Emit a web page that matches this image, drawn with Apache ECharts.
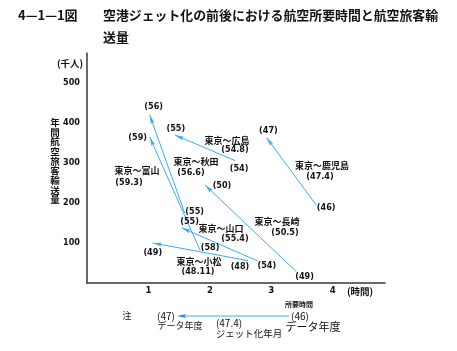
<!DOCTYPE html>
<html>
<head>
<meta charset="utf-8">
<script src="https://cdn.jsdelivr.net/npm/echarts@6/dist/echarts.min.js"></script>
<style>
  html, body { margin: 0; padding: 0; background: #fff; }
  #chart { width: 457px; height: 351px; }
</style>
</head>
<body>
<div id="chart"></div>
<script>
// 4-1-1図 空港ジェット化の前後における航空所要時間と航空旅客輸送量
var routes = ['東京〜鹿児島', '東京〜広島', '東京〜秋田', '東京〜富山', '東京〜山口', '東京〜小松', '東京〜長崎']
var jetDates = ['47.4', '54.8', '56.6', '59.3', '55.4', '48.11', '50.5']
// ジェット化前のデータ年度 / 所要時間(時間) / 輸送量(千人)
var beforeYear = ['46', '54', '55', '58', '54', '48', '49']
var beforeHours = [3.73, 2.41, 1.59, 1.84, 2.78, 2.62, 3.41]
var beforePassengers = [195, 306, 175, 82, 55, 56, 28]
// ジェット化後
var afterYear = ['47', '55', '56', '59', '55', '49', '50']
var afterHours = [2.92, 1.43, 1.02, 1.02, 1.54, 1.07, 1.92]
var afterPassengers = [364, 370, 420, 365, 138, 100, 245]
var xTicks = [1, 2, 3, 4]
var yTicks = [100, 200, 300, 400, 500]

// ラベルの位置 (px)
var beforeOffset = [[10, 3], [4, 8], [10, -1], [10, -3], [9, 5], [-8, 6], [8, 5]]
var afterOffset = [[2, -7], [1, -6], [4, -8], [-12, 1], [8, -6], [0, 10], [17, 1]]
var routeLabelPos = [[322, 166], [227, 141], [196, 162], [137, 171], [221, 229], [199, 262], [277, 222]]
var dateLabelPos = [[320, 177], [235, 150], [191, 173], [129, 183], [235, 239], [198, 272], [285, 233]]

var blue = '#3aaef0'
var ink = '#111'
var cjk = '"Noto Sans CJK JP", sans-serif'
var num = '"DejaVu Sans Condensed", "DejaVu Sans", sans-serif'
var arrow = 'path://M0,0M20,20M10,10L12.2,20L10,18.4L7.8,20Z'

var chart = echarts.init(document.getElementById('chart'))

var yearPoints = []
routes.forEach(function (r, i) {
  yearPoints.push({
    value: [beforeHours[i], beforePassengers[i]],
    label: { formatter: '(' + beforeYear[i] + ')', offset: beforeOffset[i] }
  })
  yearPoints.push({
    value: [afterHours[i], afterPassengers[i]],
    label: { formatter: '(' + afterYear[i] + ')', offset: afterOffset[i] }
  })
})

function txt(x, y, s, size, extra) {
  var style = {
    text: s,
    x: x,
    y: y,
    fill: ink,
    font: (extra && extra.weight ? extra.weight : 'bold') + ' ' + size + 'px ' + (extra && extra.family ? extra.family : cjk),
    align: extra && extra.align ? extra.align : 'center',
    verticalAlign: 'middle'
  }
  if (extra && extra.lineHeight) style.lineHeight = extra.lineHeight
  return { type: 'text', silent: true, style: style }
}

var graphics = [
  txt(18, 15, '4—1—1図', 13, { align: 'left' }),
  txt(103, 15, '空港ジェット化の前後における航空所要時間と航空旅客輸', 12.9, { align: 'left' }),
  txt(103, 37, '送量', 12.9, { align: 'left' }),
  txt(70, 63, '(千人)', 9.5),
  txt(55, 161, '年\n間\n航\n空\n旅\n客\n輸\n送\n量', 9.5, { lineHeight: 9.7 }),
  txt(360, 291, '(時間)', 9.5),
  // 注
  txt(299, 304, '所要時間', 7),
  txt(127, 316, '注', 9, { weight: 'normal' }),
  txt(166, 316, '(47)', 10, { weight: 'normal' }),
  txt(300, 316, '(46)', 10, { weight: 'normal' }),
  txt(180, 326, 'データ年度', 9, { weight: 'normal' }),
  txt(229, 323, '(47.4)', 10, { weight: 'normal' }),
  txt(249, 333, 'ジェット化年月', 9.5, { weight: 'normal' }),
  txt(313, 327, 'データ年度', 11, { weight: 'normal' }),
  { type: 'line', silent: true, shape: { x1: 289, y1: 316, x2: 180, y2: 316 }, style: { stroke: blue, lineWidth: 1 } },
  { type: 'polygon', silent: true, shape: { points: [[177, 316], [186, 314], [184.5, 316], [186, 318]] }, style: { fill: '#2b8fe6' } }
]
routes.forEach(function (r, i) {
  graphics.push(txt(routeLabelPos[i][0], routeLabelPos[i][1], r, 9))
  graphics.push(txt(dateLabelPos[i][0], dateLabelPos[i][1], '(' + jetDates[i] + ')', 9, { family: num }))
})

chart.setOption({
  animation: false,
  backgroundColor: '#fff',
  grid: { left: 87, right: 72, top: 53, bottom: 68 },
  xAxis: {
    type: 'value',
    min: 0,
    max: 4.85,
    interval: 1,
    axisLine: { show: true, onZero: false, lineStyle: { color: '#3a3a33', width: 1.5 } },
    axisTick: { show: false },
    splitLine: { show: false },
    axisLabel: {
      formatter: function (v) { return xTicks.indexOf(v) >= 0 ? String(v) : '' },
      color: ink, fontWeight: 'bold', fontSize: 9.5, fontFamily: num, margin: 3
    }
  },
  yAxis: {
    type: 'value',
    min: 0,
    max: 575,
    interval: 100,
    axisLine: { show: true, onZero: false, lineStyle: { color: '#3a3a33', width: 1.5 } },
    axisTick: { show: false },
    splitLine: { show: false },
    axisLabel: {
      formatter: function (v) { return yTicks.indexOf(v) >= 0 ? String(v) : '' },
      color: ink, fontWeight: 'bold', fontSize: 9, fontFamily: num, margin: 7
    }
  },
  series: [
    {
      type: 'lines',
      coordinateSystem: 'cartesian2d',
      silent: true,
      symbol: ['none', arrow],
      symbolSize: 18,
      lineStyle: { color: blue, width: 1, opacity: 1 },
      data: routes.map(function (r, i) {
        return {
          name: r,
          coords: [[beforeHours[i], beforePassengers[i]], [afterHours[i], afterPassengers[i]]]
        }
      })
    },
    {
      type: 'scatter',
      silent: true,
      symbolSize: 0,
      data: yearPoints,
      label: {
        show: true,
        position: 'inside',
        color: ink,
        opacity: 1,
        fontWeight: 'bold',
        fontSize: 9,
        fontFamily: num
      }
    }
  ],
  graphic: graphics
})
</script>
</body>
</html>
